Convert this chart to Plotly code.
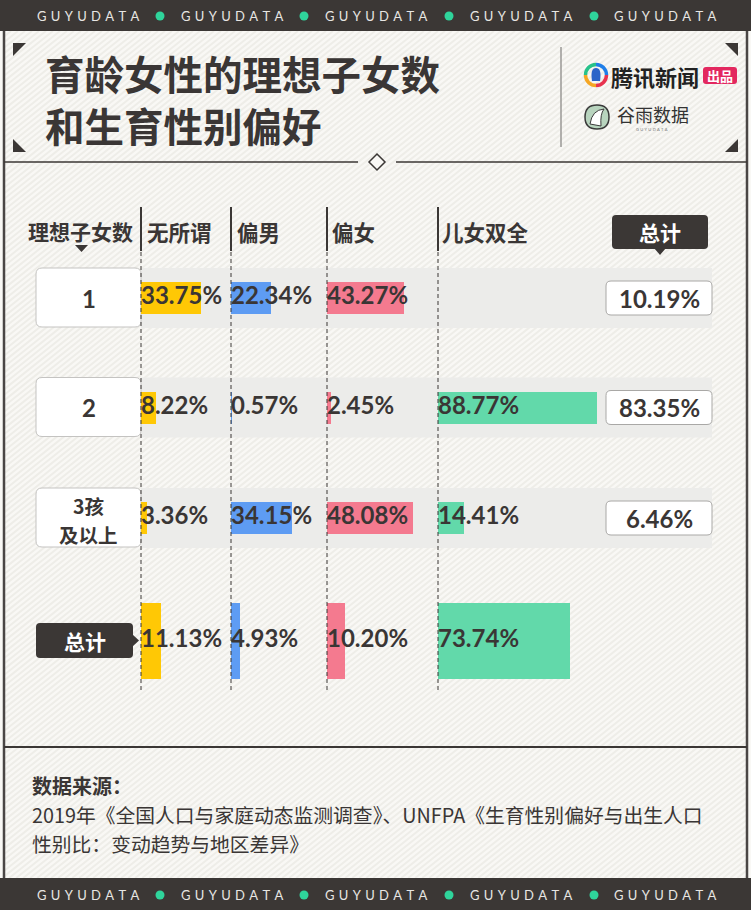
import plotly.graph_objects as go

# ---------------- data ----------------
row_labels = ["1", "2", "3孩<br>及以上", "总计"]
column_names = ["无所谓", "偏男", "偏女", "儿女双全"]
indifferent = [33.75, 8.22, 3.36, 11.13]
prefer_boy = [22.34, 0.57, 34.15, 4.93]
prefer_girl = [43.27, 2.45, 48.08, 10.20]
both_genders = [None, 88.77, 14.41, 73.74]
row_share = [10.19, 83.35, 6.46]
series = [indifferent, prefer_boy, prefer_girl, both_genders]

# ---------------- layout constants (pixels) ----------------
W, H = 751, 910
DARK = "#3b3735"
TXT = "#3a3635"
BG = "#f9f8f5"
COLORS = ["#ffc805", "#5e9cf3", "#f47a8f", "#62d9aa"]
COL_X = [141, 231, 327, 438]
PX_PER_PCT = 1.79
ROW_Y = [298, 407.5, 518, 641]
BAR_H = [32, 32, 32, 76]
NUM_FONT = "Lato, Noto Sans CJK SC"
CJK = "Noto Sans CJK SC"

fig = go.Figure()

# bars + value labels on per-column axes
for j, vals in enumerate(series):
    ax = f"x{j + 2}"
    fig.add_trace(go.Bar(
        x=vals, y=ROW_Y, width=BAR_H, orientation="h", xaxis=ax, yaxis="y",
        marker=dict(color=COLORS[j], line=dict(width=0)), hoverinfo="skip",
        showlegend=False))
    ys = [y for y, v in zip(ROW_Y, vals) if v is not None]
    txt = [f"{v:.2f}%" for v in vals if v is not None]
    fig.add_trace(go.Scatter(
        x=[0] * len(ys), y=ys, mode="text", text=txt, textposition="middle right",
        textfont=dict(family=NUM_FONT, size=24, color=TXT, weight="bold"),
        xaxis=ax, yaxis="y", cliponaxis=False, hoverinfo="skip", showlegend=False))

# ---------------- shapes ----------------
shapes = []


def rrect(x0, y0, x1, y1, r):
    return (f"M{x0 + r},{y0} L{x1 - r},{y0} Q{x1},{y0} {x1},{y0 + r} "
            f"L{x1},{y1 - r} Q{x1},{y1} {x1 - r},{y1} L{x0 + r},{y1} "
            f"Q{x0},{y1} {x0},{y1 - r} L{x0},{y0 + r} Q{x0},{y0} {x0 + r},{y0} Z")


def add_path(path, fill=None, line_color=None, lw=0, layer="below", dash=None):
    d = dict(type="path", path=path, xref="x", yref="y", layer=layer,
             line=dict(width=lw, color=line_color or "rgba(0,0,0,0)"))
    if dash:
        d["line"]["dash"] = dash
    if fill:
        d["fillcolor"] = fill
    shapes.append(d)


def add_line(x0, y0, x1, y1, color=DARK, lw=1.5, dash=None, layer="below"):
    d = dict(type="line", x0=x0, y0=y0, x1=x1, y1=y1, xref="x", yref="y",
             layer=layer, line=dict(color=color, width=lw))
    if dash:
        d["line"]["dash"] = dash
    shapes.append(d)


# diagonal background stripes
top, bot, left, right = 31, 878, 4, 747
k = 1.25
segs = []
c = left - k * (bot - top)
while c < right:
    y_a, y_b = bot, top
    xa, xb = c, c + k * (bot - top)
    if xa < left:
        y_a = bot - (left - c) / k
        xa = left
    if xb > right:
        y_b = bot - (right - c) / k
        xb = right
    if xb > xa:
        segs.append(f"M{xa:.1f},{y_a:.1f} L{xb:.1f},{y_b:.1f}")
    c += 7
add_path(" ".join(segs), line_color="#eeede8", lw=2)

# banners
shapes.append(dict(type="rect", x0=0, x1=W, y0=0, y1=31, xref="x", yref="y",
                   fillcolor=DARK, line=dict(width=0), layer="below"))
shapes.append(dict(type="rect", x0=0, x1=W, y0=878, y1=H, xref="x", yref="y",
                   fillcolor=DARK, line=dict(width=0), layer="below"))
# frame sides
add_line(4, 31, 4, 878, color="#4a4645", lw=2.5)
add_line(747, 31, 747, 878, color="#4a4645", lw=2.5)

# header corner triangles
for (cx, cy, sx, sy) in [(13, 43, 1, 1), (738, 43, -1, 1), (13, 152, 1, -1), (738, 152, -1, -1)]:
    add_path(f"M{cx},{cy} L{cx + sx * 13},{cy} L{cx},{cy + sy * 13} Z", fill=DARK)

# separator between title and logos
add_line(561, 47, 561, 147, color="#9a9896", lw=1.5)

# horizontal rule with diamond
add_line(4, 162, 358, 162, lw=1.5)
add_line(396, 162, 747, 162, lw=1.5)
add_path("M377,154 L385,162 L377,170 L369,162 Z", fill=BG, line_color=DARK, lw=1.5)
# bottom rule of chart section
add_line(4, 747, 747, 747, lw=2)

# row bands and boxes
for i in range(3):
    yc = ROW_Y[i]
    shapes.append(dict(type="rect", x0=141, x1=712, y0=yc - 30, y1=yc + 30,
                       xref="x", yref="y", fillcolor="#ececea", line=dict(width=0),
                       layer="below"))
for i in range(3):
    yc = ROW_Y[i]
    add_path(rrect(36, yc - 30, 141, yc + 29, 6), fill="#ffffff", line_color="#c4c3c1", lw=1)
    add_path(rrect(606, yc - 17, 712, yc + 17, 5), fill="#ffffff", line_color="#a9a8a6", lw=1)

# header "总计" box with pointer
add_path(rrect(612, 215, 708, 249, 4), fill=DARK)
add_path("M654,248 L666,248 L660,255 Z", fill=DARK)
# total row "总计" box with pointer
add_path(rrect(36, 623, 133, 658, 4), fill=DARK)
add_path("M132,634 L139,640.5 L132,647 Z", fill=DARK)
# small triangle under 理想子女数
add_path("M75,245 L88,245 L81.5,252 Z", fill=DARK)

# column lines: solid header part + dashed body
for x in COL_X:
    add_line(x, 207, x, 251, lw=2)
    add_line(x, 252, x, 693, lw=1, dash="4px,3px", layer="above")

# logos: tencent ring
cx, cy, r = 596, 75, 10.5
kk = 0.5523
arcs = [
    ("#f5a623", (cx - r, cy), f"C{cx - r},{cy + kk * r} {cx - kk * r},{cy + r} {cx},{cy + r}"),
    ("#e8334f", (cx, cy + r), f"C{cx + kk * r},{cy + r} {cx + r},{cy + kk * r} {cx + r},{cy}"),
    ("#1f7ee8", (cx + r, cy), f"C{cx + r},{cy - kk * r} {cx + kk * r},{cy - r} {cx},{cy - r}"),
    ("#27c28a", (cx, cy - r), f"C{cx - kk * r},{cy - r} {cx - r},{cy - kk * r} {cx - r},{cy}"),
]
for col, (sx, sy), cmd in arcs:
    add_path(f"M{sx},{sy} {cmd}", line_color=col, lw=3.5)
add_path(f"M{cx - 4},{cy + 6} Q{cx - 6},{cy - 7} {cx},{cy - 7} Q{cx + 6},{cy - 7} {cx + 4},{cy + 6} Z",
         fill="#2a64c8")
add_path(rrect(703, 67, 737, 84, 3), fill="#e3285f")
# guyu icon
add_path(rrect(585, 105, 609, 129, 12), fill="#b8d4be", line_color="#3a3a3a", lw=1.5)
add_path("M590,124 Q592,110 604,109 Q600,114 601,126 Z", fill="#ffffff", line_color="#3a3a3a", lw=1)

# ---------------- annotations ----------------
ann = []


def text(x, y, s, size, color=TXT, family=CJK, weight="normal", xanchor="left", align="left"):
    ann.append(dict(x=x, y=y, xref="x", yref="y", text=s, showarrow=False,
                    xanchor=xanchor, yanchor="middle", align=align,
                    font=dict(size=size, color=color, family=family, weight=weight)))


# banner text + dots
sp = "\u2004"
brand = sp.join("GUYUDATA")
for bx in [87.5, 231.5, 376, 520.5, 665]:
    text(bx, 16, brand, 13, color="#e8e6e3", family="Lato, DejaVu Sans", xanchor="center")
    text(bx, 895, brand, 13, color="#e8e6e3", family="Lato, DejaVu Sans", xanchor="center")
for dx in [160, 304, 449, 594]:
    for dy in (16, 895):
        shapes.append(dict(type="circle", x0=dx - 4.5, x1=dx + 4.5, y0=dy - 4.5, y1=dy + 4.5,
                           xref="x", yref="y", fillcolor="#2fd49b", line=dict(width=0),
                           layer="above"))

# title
text(43, 72, "育龄女性的理想子女数", 39.5, weight="bold")
text(43, 124, "和生育性别偏好", 39.5, weight="bold")
# logo texts
text(609, 76, "腾讯新闻", 22, color="#222222", weight="bold")
text(720, 75.5, "出品", 13, color="#ffffff", weight="bold", xanchor="center")
text(615, 114, "谷雨数据", 18, color="#333333")
text(652, 129, sp.join("GUYUDATA"), 4, color="#777777", family="Lato", xanchor="center")

# column headers
text(80.5, 231, "理想子女数", 21, weight="bold", xanchor="center")
for x, name in zip([145, 235, 330, 440], column_names):
    text(x, 231, name, 21.5, weight="bold")
text(660, 232, "总计", 21, color="#ffffff", weight="bold", xanchor="center")

# row labels
text(88.5, ROW_Y[0], row_labels[0], 24, family=NUM_FONT, weight="bold", xanchor="center")
text(88.5, ROW_Y[1], row_labels[1], 24, family=NUM_FONT, weight="bold", xanchor="center")
r3a, r3b = row_labels[2].split("<br>")
text(88.5, 505, r3a, 19.5, weight="bold", xanchor="center")
text(88.5, 534, r3b, 19.5, weight="bold", xanchor="center")
text(84.5, 640.5, row_labels[3], 21, color="#ffffff", weight="bold", xanchor="center")

# row shares
for i, v in enumerate(row_share):
    text(659, ROW_Y[i], f"{v:.2f}%", 24, family=NUM_FONT, weight="bold", xanchor="center")

# footer
text(30, 785, "数据来源：", 20, weight="bold")
text(30, 814, "2019年《全国人口与家庭动态监测调查》、UNFPA《生育性别偏好与出生人口", 19.8)
text(30, 843.5, "性别比：变动趋势与地区差异》", 19.8)

# ---------------- layout ----------------
layout = dict(
    width=W, height=H, margin=dict(l=0, r=0, t=0, b=0),
    paper_bgcolor=BG, plot_bgcolor="rgba(0,0,0,0)",
    shapes=shapes, annotations=ann, barmode="overlay", bargap=0,
    xaxis=dict(domain=[0, 1], range=[0, W], visible=False, fixedrange=True),
    yaxis=dict(domain=[0, 1], range=[H, 0], visible=False, fixedrange=True),
    showlegend=False,
)
for j, x0 in enumerate(COL_X):
    layout[f"xaxis{j + 2}"] = dict(domain=[x0 / W, (x0 + 100 * PX_PER_PCT) / W],
                                   range=[0, 100], anchor="y", visible=False, fixedrange=True)
fig.update_layout(**layout)

fig.write_html("out.html", config={"displayModeBar": False, "staticPlot": True},
               post_script="document.body.style.margin='0';document.body.style.overflow='hidden';")
